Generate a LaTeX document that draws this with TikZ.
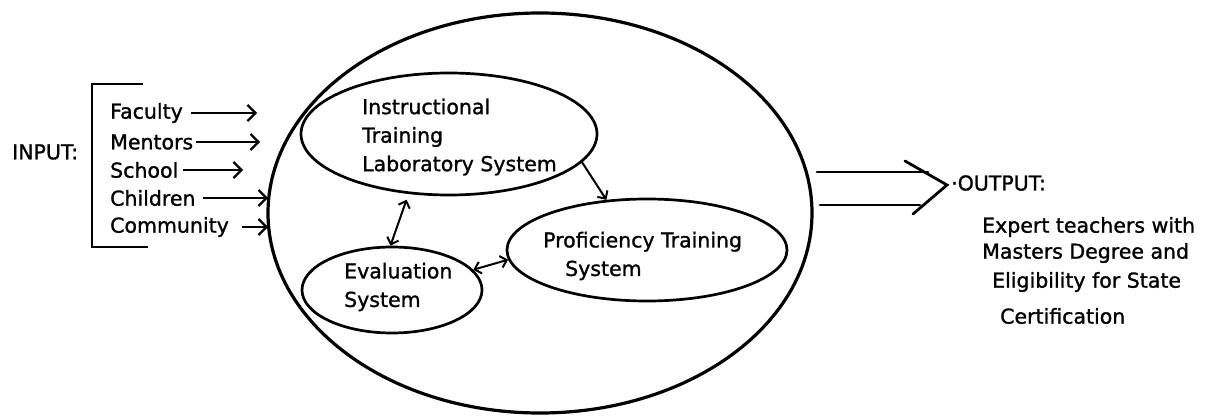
\documentclass[tikz,border=0pt]{standalone}
\usepackage{fontspec}
\setmainfont{DejaVu Sans}[FakeBold=1.2]
\usetikzlibrary{shapes.geometric,arrows.meta}

\tikzset{
  sys/.style={draw,ellipse,line width=2.7pt,inner sep=0pt},
  txt/.style={inner sep=0pt,anchor=west,align=left,font=\fontsize{20.5}{28.5}\selectfont},
  feed/.style={line width=2.2pt,-{Straight Barb[length=8pt,width=16pt]}},
  link/.style={line width=2pt,{Straight Barb[length=6pt,width=12pt]}-{Straight Barb[length=6pt,width=12pt]}},
  bigline/.style={line width=2.8pt,line cap=round,line join=miter}
}

\begin{document}
\begin{tikzpicture}[x=1pt,y=-1pt]
\useasboundingbox (0,0) rectangle (1205,417);

% systems
\node[sys,line width=3.2pt,minimum width=544pt,minimum height=400pt] (prog) at (540,213) {};
\node[sys,minimum width=296pt,minimum height=122pt] (instr) at (449,134) {};
\node[sys,minimum width=280pt,minimum height=102pt] (prof) at (647,250) {};
\node[sys,minimum width=180pt,minimum height=86pt] (eval) at (392,290) {};

\node[txt] (instrtxt) at (362,137) {Instructional\\Training\\Laboratory System};
\node[txt] (proftxt) at (543,256) {Proficiency Training\\\hspace{22pt}System};
\node[txt] (evaltxt) at (344,287) {Evaluation\\System};

%instr->prof
\draw[line width=2pt,-{Straight Barb[length=6pt,width=12pt]}] (instr.-12) -- (prof.129);
%instr<->eval
\draw[link,shorten <=6pt] (instr.236) -- (eval.92);
%eval<->prof
\draw[link] (eval.14) -- (prof.184);

% input side
\node[txt] (input) at (12,152) {INPUT:};
\draw[bigline,line cap=butt] (143,84) -- (92,84) -- (92,247) -- (148,247);

\foreach \name/\y/\gap/\tipx in {Faculty/113/8/257,Mentors/142/3/260,School/170/5/243,Children/198/7/268,Community/227/13/268}
{
  \node[txt] (in\name) at (110,\y) {\name};
  \coordinate (tip\name) at (\tipx,\y);
  \draw[feed] ([xshift=\gap pt]in\name.east) -- (tip\name);
}

% output side
\coordinate (shaftA) at (817,172);
\coordinate (shaftB) at (820,205);
\coordinate (headA) at (905,161);
\coordinate (headB) at (913,214);
\coordinate (tip) at (947,185);
\draw[bigline] (shaftA) -- (928,172);
\draw[bigline] (shaftB) -- (920,205);
\draw[bigline] (headA) -- (tip) -- (headB);

\node[txt] (output) at (951,183) {·OUTPUT:};
\node[txt] (res1) at (982,227) {Expert teachers with};
\node[txt] (res2) at (982,253) {Masters Degree and};
\node[txt] (res3) at (992,282) {Eligibility for State};
\node[txt] (res4) at (1000,316) {Certification};

\end{tikzpicture}
\end{document}
